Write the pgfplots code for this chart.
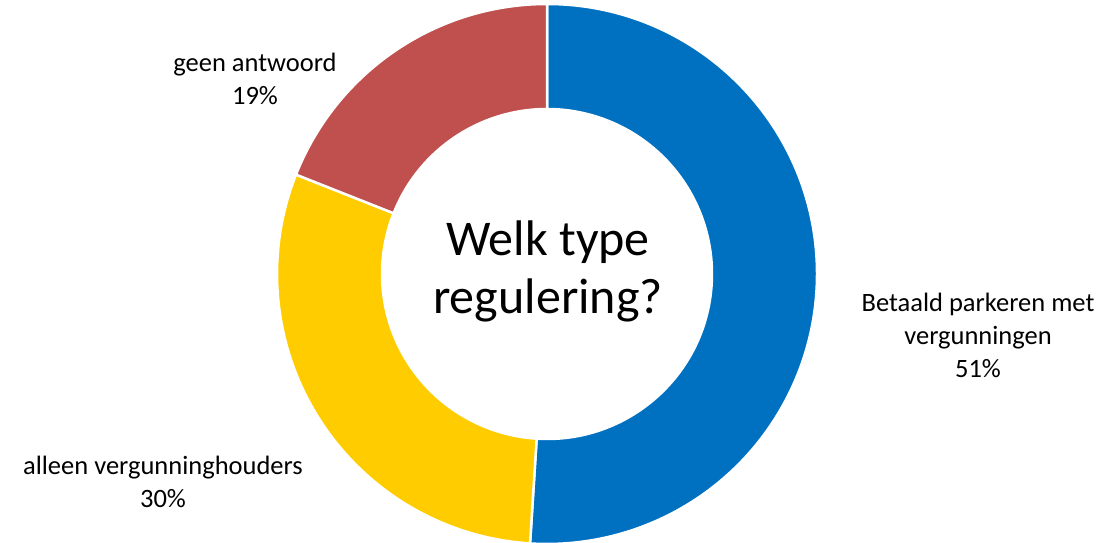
\documentclass[border=0pt]{standalone}
\usepackage{pgfplots}
\pgfplotsset{compat=1.18}
\usepackage{fontspec}
\setmainfont{Carlito}
\definecolor{cblue}{HTML}{0070C0}
\definecolor{cyellow}{HTML}{FFCC00}
\definecolor{cred}{HTML}{C0504D}
% values (percent): Betaald parkeren met vergunningen 51, alleen vergunninghouders 30, geen antwoord 19
\pgfmathsetmacro{\vA}{51}
\pgfmathsetmacro{\vB}{30}
\pgfmathsetmacro{\vC}{19}
\pgfmathsetmacro{\aA}{90}
\pgfmathsetmacro{\aB}{90-3.6*\vA}
\pgfmathsetmacro{\aC}{\aB-3.6*\vB}
\pgfmathsetmacro{\aD}{\aC-3.6*\vC}
\def\Ro{270bp}
\def\Ri{165bp}
\begin{document}
\begin{tikzpicture}
\begin{axis}[
  width=1116bp, height=543bp, scale only axis,
  xmin=0, xmax=1116, ymin=0, ymax=543,
  hide axis, clip=false]
\begin{scope}[shift={(axis cs:547,269)}]
  \filldraw[fill=cblue, draw=white, line width=2.5bp]
    (\aA:\Ro) arc[start angle=\aA, end angle=\aB, radius=\Ro]
    -- (\aB:\Ri) arc[start angle=\aB, end angle=\aA, radius=\Ri] -- cycle;
  \filldraw[fill=cyellow, draw=white, line width=2.5bp]
    (\aB:\Ro) arc[start angle=\aB, end angle=\aC, radius=\Ro]
    -- (\aC:\Ri) arc[start angle=\aC, end angle=\aB, radius=\Ri] -- cycle;
  \filldraw[fill=cred, draw=white, line width=2.5bp]
    (\aC:\Ro) arc[start angle=\aC, end angle=\aD, radius=\Ro]
    -- (\aD:\Ri) arc[start angle=\aD, end angle=\aC, radius=\Ri] -- cycle;
\end{scope}
\node[align=center, font=\fontsize{26.5bp}{33bp}\selectfont] at (axis cs:978,208) {Betaald parkeren met\\vergunningen\\51\%};
\node[align=center, font=\fontsize{26.5bp}{33bp}\selectfont] at (axis cs:163,61) {alleen vergunninghouders\\30\%};
\node[align=center, font=\fontsize{26.5bp}{33bp}\selectfont] at (axis cs:255,464.5) {geen antwoord\\19\%};
\node[align=center, font=\fontsize{50bp}{58bp}\selectfont] at (axis cs:548,272) {Welk type\\regulering?};
\end{axis}
\pgfresetboundingbox
\path (0,0) rectangle (1116bp,543bp);
\end{tikzpicture}
\end{document}
